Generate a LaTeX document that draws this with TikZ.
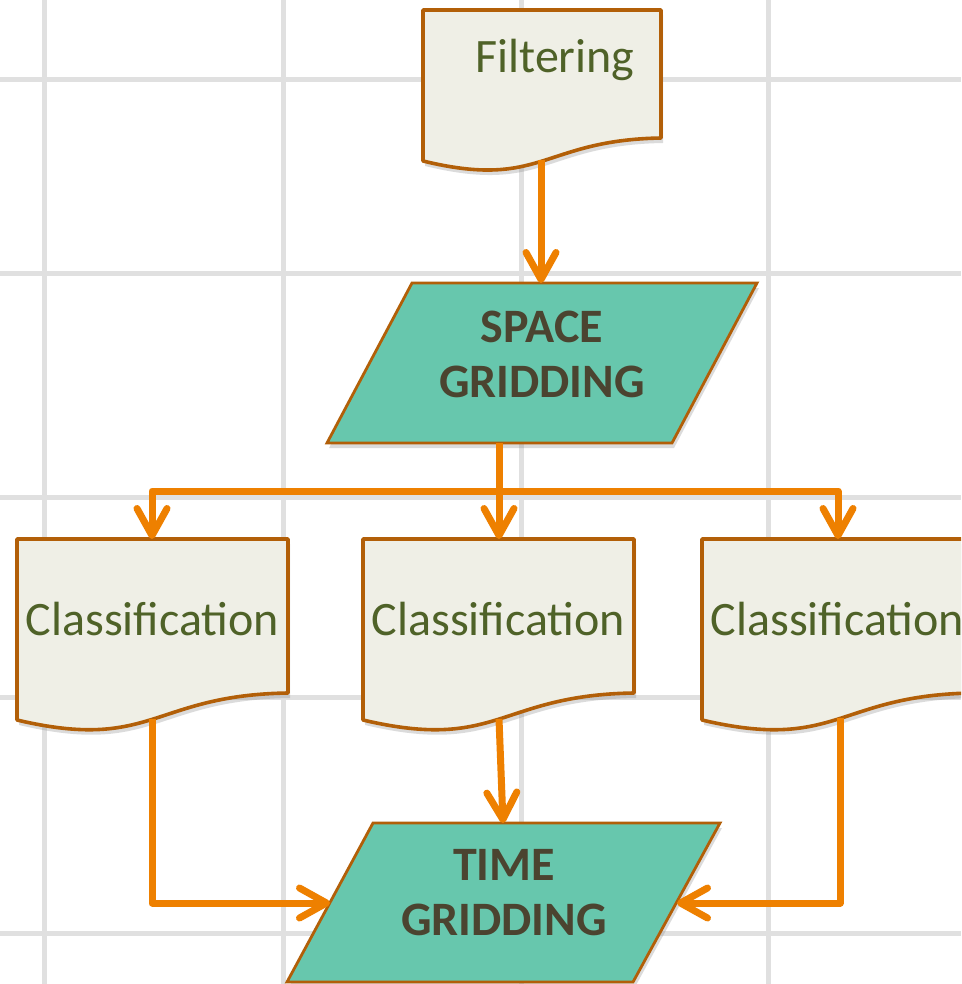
\documentclass[tikz,border=0pt]{standalone}
\usepackage{fontspec}
\setmainfont{Carlito}
\usetikzlibrary{arrows.meta,shadows}
\definecolor{gridc}{HTML}{E0E0E0}
\definecolor{docfill}{HTML}{EFEFE6}
\definecolor{bord}{HTML}{B25F08}
\definecolor{arr}{HTML}{EE8000}
\definecolor{tealf}{HTML}{67C7AD}
\definecolor{greentxt}{HTML}{4F6228}
\definecolor{boldtxt}{HTML}{4B4430}
\tikzset{
  gridline/.style={draw=gridc, line width=5pt},
  docbox/.style={fill=docfill, draw=bord, line width=3.6pt, line join=round,
    drop shadow={shadow xshift=2pt, shadow yshift=-5pt, opacity=0.28}},
  parabox/.style={fill=tealf, draw=bord, line width=2.8pt, line join=miter,
    drop shadow={shadow xshift=2pt, shadow yshift=-5pt, opacity=0.28}},
  doctext/.style={text=greentxt, font=\fontsize{48}{56}\selectfont, inner sep=0pt, anchor=base},
  boldtext/.style={text=boldtxt, font=\bfseries\fontsize{48}{55}\selectfont, inner sep=0pt, align=center},
  conn/.style={draw=arr, line width=7pt, line join=round,
    -{Straight Barb[length=27pt, width=30pt, round]}},
}
\begin{document}
\begin{tikzpicture}[x=1pt, y=-1pt]
\clip (0,0) rectangle (961,984);
\fill[white] (0,0) rectangle (961,984);
% background grid
\foreach \x in {44,283,521,768} \draw[gridline] (\x,0) -- (\x,984);
\foreach \y in {80,273,497,697,933} \draw[gridline] (0,\y) -- (961,\y);

% shapes
\path[docbox] (423,10) -- (661,10) -- (661,138) .. controls (542,140) and (542,190) .. (423,161) -- cycle;
\path[parabox] (412,283) -- (757,283) -- (672,443) -- (327,443) -- cycle;
\path[docbox] (17,539) -- (288,539) -- (288,693) .. controls (152.5,695) and (152.5,752) .. (17,720) -- cycle;
\path[docbox] (363,539) -- (634,539) -- (634,693) .. controls (498.5,695) and (498.5,752) .. (363,720) -- cycle;
\path[docbox] (702,539) -- (973,539) -- (973,693) .. controls (837.5,695) and (837.5,752) .. (702,720) -- cycle;
\path[parabox] (373,823) -- (720,823) -- (633,982) -- (287,982) -- cycle;

% texts
\node[doctext] (filt) at (555,73) {Filtering};
\node[boldtext] (space) at (542,354.5) {SPACE\\GRIDDING};
\node[doctext] (cls1) at (152.5,635) {Classification};
\node[doctext] (cls2) at (498.5,635) {Classification};
\node[doctext] (cls3) at (837.5,635) {Classification};
\node[boldtext] (time) at (504,892.5) {TIME\\GRIDDING};

% connector end points on the shape outlines
\coordinate (filtB) at (541,160);
\coordinate (spT) at (541,283);
\coordinate (spB) at (499,443);
\coordinate (jn) at (499,491);
\coordinate (c1T) at (152,539);
\coordinate (c2T) at (499,539);
\coordinate (c3T) at (838,539);
\coordinate (c1B) at (152,719);
\coordinate (c2B) at (499,719);
\coordinate (c3B) at (840,718);
\coordinate (tmT) at (503,823);
\coordinate (tmL) at (330,903);
\coordinate (tmR) at (677,903);

% connectors
\draw[conn] (filtB) -- (spT);
\draw[conn] (spB) -- (c2T);
\draw[conn] (spB) -- (jn) -| (c1T);
\draw[conn] (spB) -- (jn) -| (c3T);
\draw[conn] (c2B) -- (tmT);
\draw[conn] (c1B) |- (tmL);
\draw[conn] (c3B) |- (tmR);
\end{tikzpicture}
\end{document}
